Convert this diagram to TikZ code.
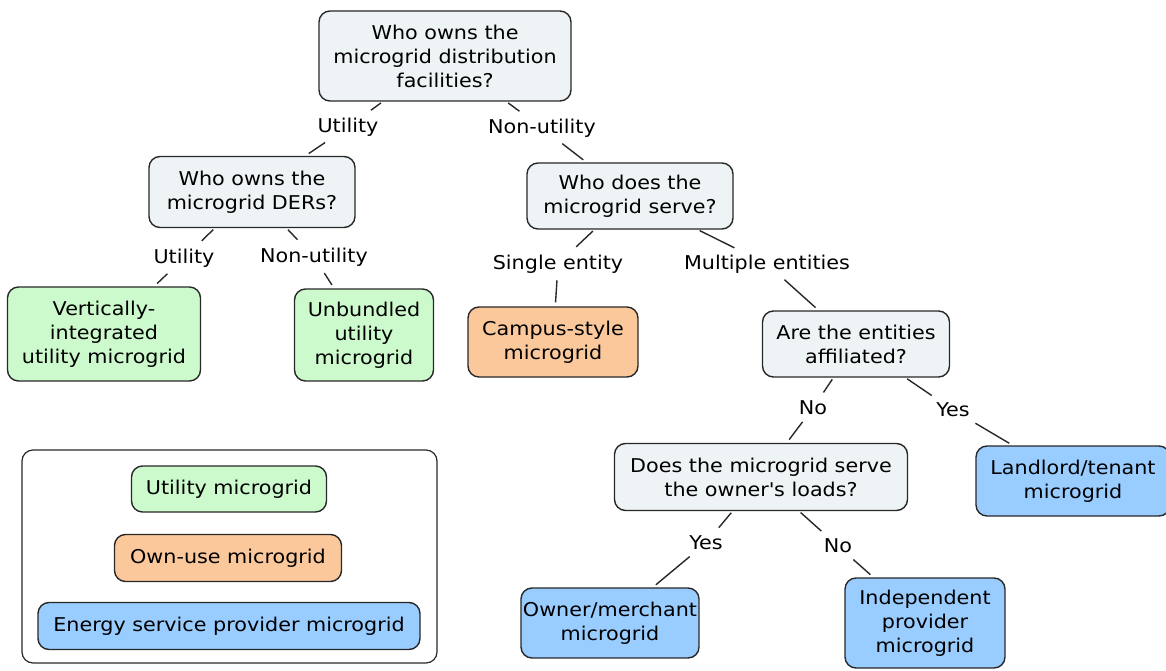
\documentclass[tikz,border=0pt]{standalone}
\usepackage{fontspec}
\setmainfont{DejaVu Sans}[FakeStretch=1.09]
\newcommand{\straightquote}{\XeTeXglyph\the\XeTeXglyphindex "quotesingle"\relax}
\definecolor{qfill}{RGB}{238,243,245}
\definecolor{gfill}{RGB}{204,250,204}
\definecolor{ofill}{RGB}{250,200,155}
\definecolor{bfill}{RGB}{153,204,255}
\definecolor{edge}{RGB}{40,40,40}
\tikzset{
  box/.style={draw=edge, line width=1.4pt, rounded corners=11pt, align=center,
    inner sep=2pt, font=\fontsize{19}{24}\selectfont},
  qbox/.style={box, fill=qfill},
  gbox/.style={box, fill=gfill},
  obox/.style={box, fill=ofill},
  bbox/.style={box, fill=bfill},
  lbl/.style={inner sep=5pt, font=\fontsize{19}{24}\selectfont},
  conn/.style={draw=edge, line width=1.4pt, shorten >=4pt, shorten <=2pt}
}
\begin{document}
\begin{tikzpicture}[x=1pt,y=-1pt]
\useasboundingbox (0,0) rectangle (1166,671);
% question nodes
\node[qbox, minimum width=252pt, minimum height=90pt] (top) at (445,56) {Who owns the\\microgrid distribution\\facilities?};
\node[qbox, minimum width=206pt, minimum height=71pt] (ders) at (252,192) {Who owns the\\microgrid DERs?};
\node[qbox, minimum width=206pt, minimum height=66pt] (serve) at (630,196) {Who does the\\microgrid serve?};
\node[qbox, minimum width=187pt, minimum height=66pt] (affil) at (856,344) {Are the entities\\affiliated?};
\node[qbox, minimum width=293pt, minimum height=67pt] (loads) at (761,477) {Does the microgrid serve\\the owner\straightquote s loads?};
% outcome nodes
\node[gbox, minimum width=193pt, minimum height=94pt] (vert) at (104,334) {Vertically-\\integrated\\utility microgrid};
\node[gbox, minimum width=139pt, minimum height=92pt] (unb) at (364,335) {Unbundled\\utility\\microgrid};
\node[obox, minimum width=170pt, minimum height=70pt] (campus) at (553,342) {Campus-style\\microgrid};
\node[bbox, minimum width=194pt, minimum height=70pt] (land) at (1073,481) {Landlord/tenant\\microgrid};
\node[bbox, minimum width=174pt, minimum height=70pt] (ownm) at (610,623) {Owner/merchant\\microgrid};
\node[bbox, minimum width=160pt, minimum height=90pt] (indep) at (925,623) {Independent\\provider\\microgrid};
% labels
\node[lbl] (l1) at (348,127) {Utility};
\node[lbl] (l2) at (542,128) {Non-utility};
\node[lbl] (l3) at (184,258) {Utility};
\node[lbl] (l4) at (314,257) {Non-utility};
\node[lbl] (l5) at (558,264) {Single entity};
\node[lbl] (l6) at (767,264) {Multiple entities};
\node[lbl] (l7) at (813,408) {No};
\node[lbl] (l8) at (953,410) {Yes};
\node[lbl] (l9) at (706,543) {Yes};
\node[lbl] (l10) at (838,546) {No};
% connectors
\draw[conn] (top) -- (l1); \draw[conn] (l1) -- (ders);
\draw[conn] (top) -- (l2); \draw[conn] (l2) -- (serve);
\draw[conn] (ders) -- (l3); \draw[conn] (l3) -- (vert);
\draw[conn] (ders) -- (l4); \draw[conn] (l4) -- (unb);
\draw[conn] (serve) -- (l5); \draw[conn] (l5) -- (campus);
\draw[conn] (serve) -- (l6); \draw[conn] (l6) -- (affil);
\draw[conn] (affil) -- (l7); \draw[conn] (l7) -- (loads);
\draw[conn] (affil) -- (l8); \draw[conn] (l8) -- (land);
\draw[conn] (loads) -- (l9); \draw[conn] (l9) -- (ownm);
\draw[conn] (loads) -- (l10); \draw[conn] (l10) -- (indep);
% legend
\node[draw=edge, line width=1.2pt, rounded corners=11pt, minimum width=415pt, minimum height=213pt] (legend) at (229.5,556.5) {};
\node[gbox, minimum width=195pt, minimum height=46pt] (lu) at (229,489) {Utility microgrid};
\node[obox, minimum width=227pt, minimum height=47pt] (lo) at (228,558) {Own-use microgrid};
\node[bbox, minimum width=382pt, minimum height=47pt] (le) at (229,626) {Energy service provider microgrid};
\end{tikzpicture}
\end{document}
